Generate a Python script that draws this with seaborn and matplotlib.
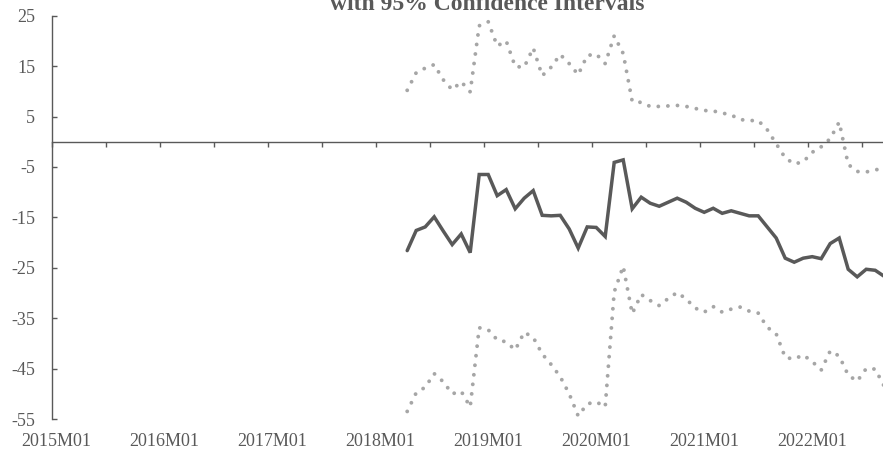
import matplotlib
matplotlib.use("Agg")
import matplotlib.pyplot as plt
import numpy as np
import pandas as pd
import seaborn as sns

# Monthly categories 2015M01 .. 2022M09 (index 0 = 2015M01)
months = [f"{y}M{m:02d}" for y in range(2015, 2023) for m in range(1, 13)][:93]
year_labels = ["2015M01", "2016M01", "2017M01", "2018M01",
               "2019M01", "2020M01", "2021M01", "2022M01"]

# Estimates start in 2018M04
start_month = "2018M04"

estimate = [-21.6, -17.6, -16.9, -14.9, -17.7, -20.4, -18.3, -22.0, -6.5, -6.5,
            -10.7, -9.5, -13.3, -11.2, -9.7, -14.6, -14.7, -14.6, -17.3, -21.1,
            -16.9, -17.0, -18.8, -4.1, -3.6, -13.3, -11.0, -12.2, -12.8, -12.0,
            -11.2, -12.0, -13.2, -14.0, -13.2, -14.2, -13.7, -14.2, -14.7, -14.7,
            -16.9, -19.1, -23.1, -23.9, -23.1, -22.8, -23.2, -20.2, -19.1, -25.3,
            -26.8, -25.3, -25.5, -26.7]

upper_ci = [10.2, 13.7, 14.6, 15.3, 12.3, 10.3, 11.9, 9.9, 23.0, 23.8,
            19.0, 20.0, 14.9, 14.8, 18.6, 13.1, 14.8, 17.3, 15.5, 13.3,
            17.1, 17.4, 15.5, 21.0, 17.5, 8.0, 7.8, 7.0, 7.0, 7.1,
            7.2, 7.0, 6.6, 6.2, 6.1, 5.7, 5.3, 4.4, 4.2, 4.2,
            2.4, -0.4, -3.2, -4.4, -4.0, -2.1, -1.0, 0.6, 3.9, -4.5,
            -5.9, -6.0, -5.6, -5.2]

lower_ci = [-53.5, -49.8, -48.7, -46.0, -47.6, -50.0, -49.5, -52.6, -36.9, -37.3,
            -39.3, -39.7, -41.3, -37.8, -38.8, -42.1, -44.2, -46.6, -50.0, -54.4,
            -52.0, -51.6, -52.6, -29.8, -24.7, -34.1, -30.3, -31.5, -32.5, -31.1,
            -29.9, -31.2, -33.0, -33.8, -32.7, -33.8, -33.2, -32.8, -33.6, -34.0,
            -36.8, -38.1, -42.8, -43.1, -42.3, -43.6, -45.3, -41.5, -42.5, -46.3,
            -47.5, -45.0, -45.1, -48.5]

y_ticks = [25, 15, 5, -5, -15, -25, -35, -45, -55]

i0 = months.index(start_month)
pos = np.arange(i0, i0 + len(estimate))
df = pd.DataFrame({"pos": pos, "estimate": estimate,
                   "upper": upper_ci, "lower": lower_ci})

sns.set_style("white")
plt.rcParams["font.family"] = ["Liberation Serif", "DejaVu Serif"]
plt.rcParams["axes.unicode_minus"] = False

W, H = 883, 450
axis_col = "#595959"
text_col = "#595959"

fig = plt.figure(figsize=(W / 100, H / 100), dpi=100)
x0, y_top, y_bot = 51.7, 15.7, 419.0
ax = fig.add_axes([x0 / W, (H - y_bot) / H, (W - x0) / W, (y_bot - y_top) / H])

# round dots roughly 9.6 px apart along the path
dot_lw = 2.8
dot_style = (0, (0.001, 9.6 / (dot_lw * 100 / 72)))
for col in ("upper", "lower"):
    sns.lineplot(data=df, x="pos", y=col, ax=ax, color="#A6A6A6", lw=dot_lw,
                 linestyle=dot_style, dash_capstyle="round")
sns.lineplot(data=df, x="pos", y="estimate", ax=ax, color="#595959", lw=2.5,
             solid_joinstyle="miter")

px_per_month = 9.0
ax.set_xlim(-0.5, -0.5 + (W - x0) / px_per_month)
ax.set_ylim(-55, 25)
ax.set_xlabel("")
ax.set_ylabel("")

for s in ("top", "right"):
    ax.spines[s].set_visible(False)
ax.spines["left"].set_color(axis_col)
ax.spines["left"].set_linewidth(1.0)
ax.spines["bottom"].set_position(("data", 0))
ax.spines["bottom"].set_color(axis_col)
ax.spines["bottom"].set_linewidth(1.0)

ax.set_yticks(y_ticks)
ax.set_yticklabels([str(v) for v in y_ticks])
ax.tick_params(axis="y", direction="in", length=3.6, width=1.0, color=axis_col,
               pad=12, labelsize=13, labelcolor=text_col, left=True)

ax.set_xticks(np.arange(-0.5, 92, 6))
ax.tick_params(axis="x", direction="out", length=3.6, width=1.0, color=axis_col,
               labelbottom=False, bottom=True)

sec = ax.secondary_xaxis("bottom")
sec.set_xticks([months.index(l) for l in year_labels])
sec.set_xticklabels(year_labels)
sec.tick_params(length=0, pad=10, labelsize=13, labelcolor=text_col)
sec.spines["bottom"].set_visible(False)

fig.text(487.5 / W, 1 - 9.5 / H, "with 95% Confidence Intervals",
         ha="center", va="baseline", fontsize=17, fontweight="bold",
         color=text_col)

fig.savefig("out.png", dpi=100)
